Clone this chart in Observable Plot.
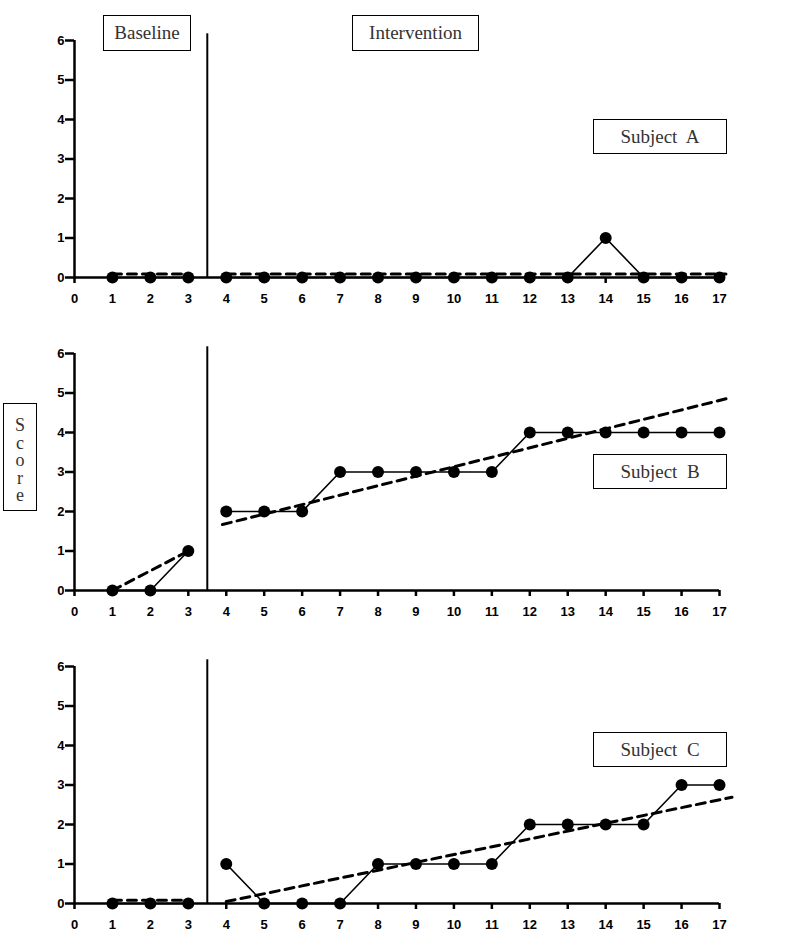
<!DOCTYPE html>
<html><head><meta charset="utf-8">
<script src="https://cdn.jsdelivr.net/npm/d3@7"></script>
<script src="https://cdn.jsdelivr.net/npm/@observablehq/plot@0.6"></script>
<style>
body{margin:0;background:#fff;}
#wrap{position:relative;width:800px;height:938px;overflow:hidden;}
.panel{position:absolute;left:0;}
.box{position:absolute;border:1.4px solid #000;background:#fff;font-family:"Liberation Serif",serif;font-size:19px;color:#333;display:flex;align-items:center;justify-content:center;box-sizing:border-box;white-space:pre;}
.score span{writing-mode:vertical-rl;text-orientation:upright;font-size:18px;letter-spacing:-2.5px;line-height:1;margin-top:4px;}
</style></head><body><div id="wrap"></div>
<script>
// ---- data ----
const sessions = d3.range(1, 18);
const phases = ["Baseline","Baseline","Baseline","Intervention","Intervention","Intervention","Intervention","Intervention","Intervention","Intervention","Intervention","Intervention","Intervention","Intervention","Intervention","Intervention","Intervention"];
const phaseChange = 3.5;
const subjectNames = ["Subject  A", "Subject  B", "Subject  C"];
const scoresA = [0,0,0, 0,0,0,0,0,0,0,0,0,0,1,0,0,0];
const scoresB = [0,0,1, 2,2,2,3,3,3,3,3,4,4,4,4,4,4];
const scoresC = [0,0,0, 1,0,0,0,1,1,1,1,2,2,2,2,3,3];
// trend lines: [start, end] per phase
const trendBaseX = [1, 3];
const trendAIntX = [4, 17.17];
const trendBIntX = [3.9, 17.2];
const trendCIntX = [4, 17.33];
const trendABase = [0.09, 0.09];
const trendAInt = [0.09, 0.09];
const trendBBase = [0, 1];
const trendBInt = [1.67, 4.86];
const trendCBase = [0.08, 0.08];
const trendCInt = [0.05, 2.69];
const xTicks = d3.range(0, 18);
const yTicks = [0, 1, 2, 3, 4, 5, 6];

const panels = [
  {scores: scoresA, base: trendABase, intX: trendAIntX, int: trendAInt, name: subjectNames[0]},
  {scores: scoresB, base: trendBBase, intX: trendBIntX, int: trendBInt, name: subjectNames[1]},
  {scores: scoresC, base: trendCBase, intX: trendCIntX, int: trendCInt, name: subjectNames[2]}
];

const wrap = document.getElementById("wrap");
const axisFont = {fontFamily: "Liberation Sans, Arial, sans-serif", fontSize: 13, fontWeight: "bold"};

panels.forEach((p, i) => {
  const data = sessions.map((s, k) => ({session: s, score: p.scores[k], phase: phases[k]}));
  const trend = [
    ...trendBaseX.map((x, k) => ({x, y: p.base[k], phase: "Baseline"})),
    ...p.intX.map((x, k) => ({x, y: p.int[k], phase: "Intervention"}))
  ];
  const chart = Plot.plot({
    width: 800, height: 313,
    marginLeft: 74, marginRight: 81, marginTop: 40, marginBottom: 36,
    x: {domain: [0, 17]},
    y: {domain: [0, 6]},
    style: {background: "white", color: "black"},
    marks: [
      Plot.axisX({ticks: xTicks, tickFormat: d3.format("d"), tickSize: 6, tickPadding: 10, strokeWidth: 2.5, label: null, ...axisFont}),
      Plot.axisY({ticks: yTicks, tickFormat: d3.format("d"), tickSize: 9, tickPadding: 1, strokeWidth: 2.5, label: null, ...axisFont}),
      Plot.ruleY([0], {x1: 0, x2: 17, strokeWidth: 2.5}),
      Plot.ruleX([0], {y1: 0, y2: 6, strokeWidth: 2.5}),
      Plot.ruleX([phaseChange], {y1: 0, y2: 6.17, strokeWidth: 2}),
      Plot.line(trend, {x: "x", y: "y", z: "phase", stroke: "black", strokeWidth: 3, strokeDasharray: "9,6"}),
      Plot.line(data, {x: "session", y: "score", z: "phase", stroke: "black", strokeWidth: 1.6}),
      Plot.dot(data, {x: "session", y: "score", r: 6, fill: "black", stroke: "none"})
    ]
  });
  chart.classList.add("panel");
  chart.style.top = (i * 313) + "px";
  wrap.appendChild(chart);
});

function addBox(text, left, top, w, h, cls) {
  const d = document.createElement("div");
  d.className = "box" + (cls ? " " + cls : "");
  d.style.left = left + "px"; d.style.top = top + "px";
  d.style.width = w + "px"; d.style.height = h + "px";
  if (cls === "score") {
    const s = document.createElement("span"); s.textContent = text; d.appendChild(s);
  } else d.textContent = text;
  wrap.appendChild(d);
}
addBox("Baseline", 103, 15, 88, 36);
addBox("Intervention", 352, 15, 127, 36);
addBox(subjectNames[0], 593, 119, 134, 35);
addBox(subjectNames[1], 593, 454, 134, 35);
addBox(subjectNames[2], 593, 732, 134, 35);
addBox("Score", 3, 403, 34, 108, "score");
</script></body></html>
